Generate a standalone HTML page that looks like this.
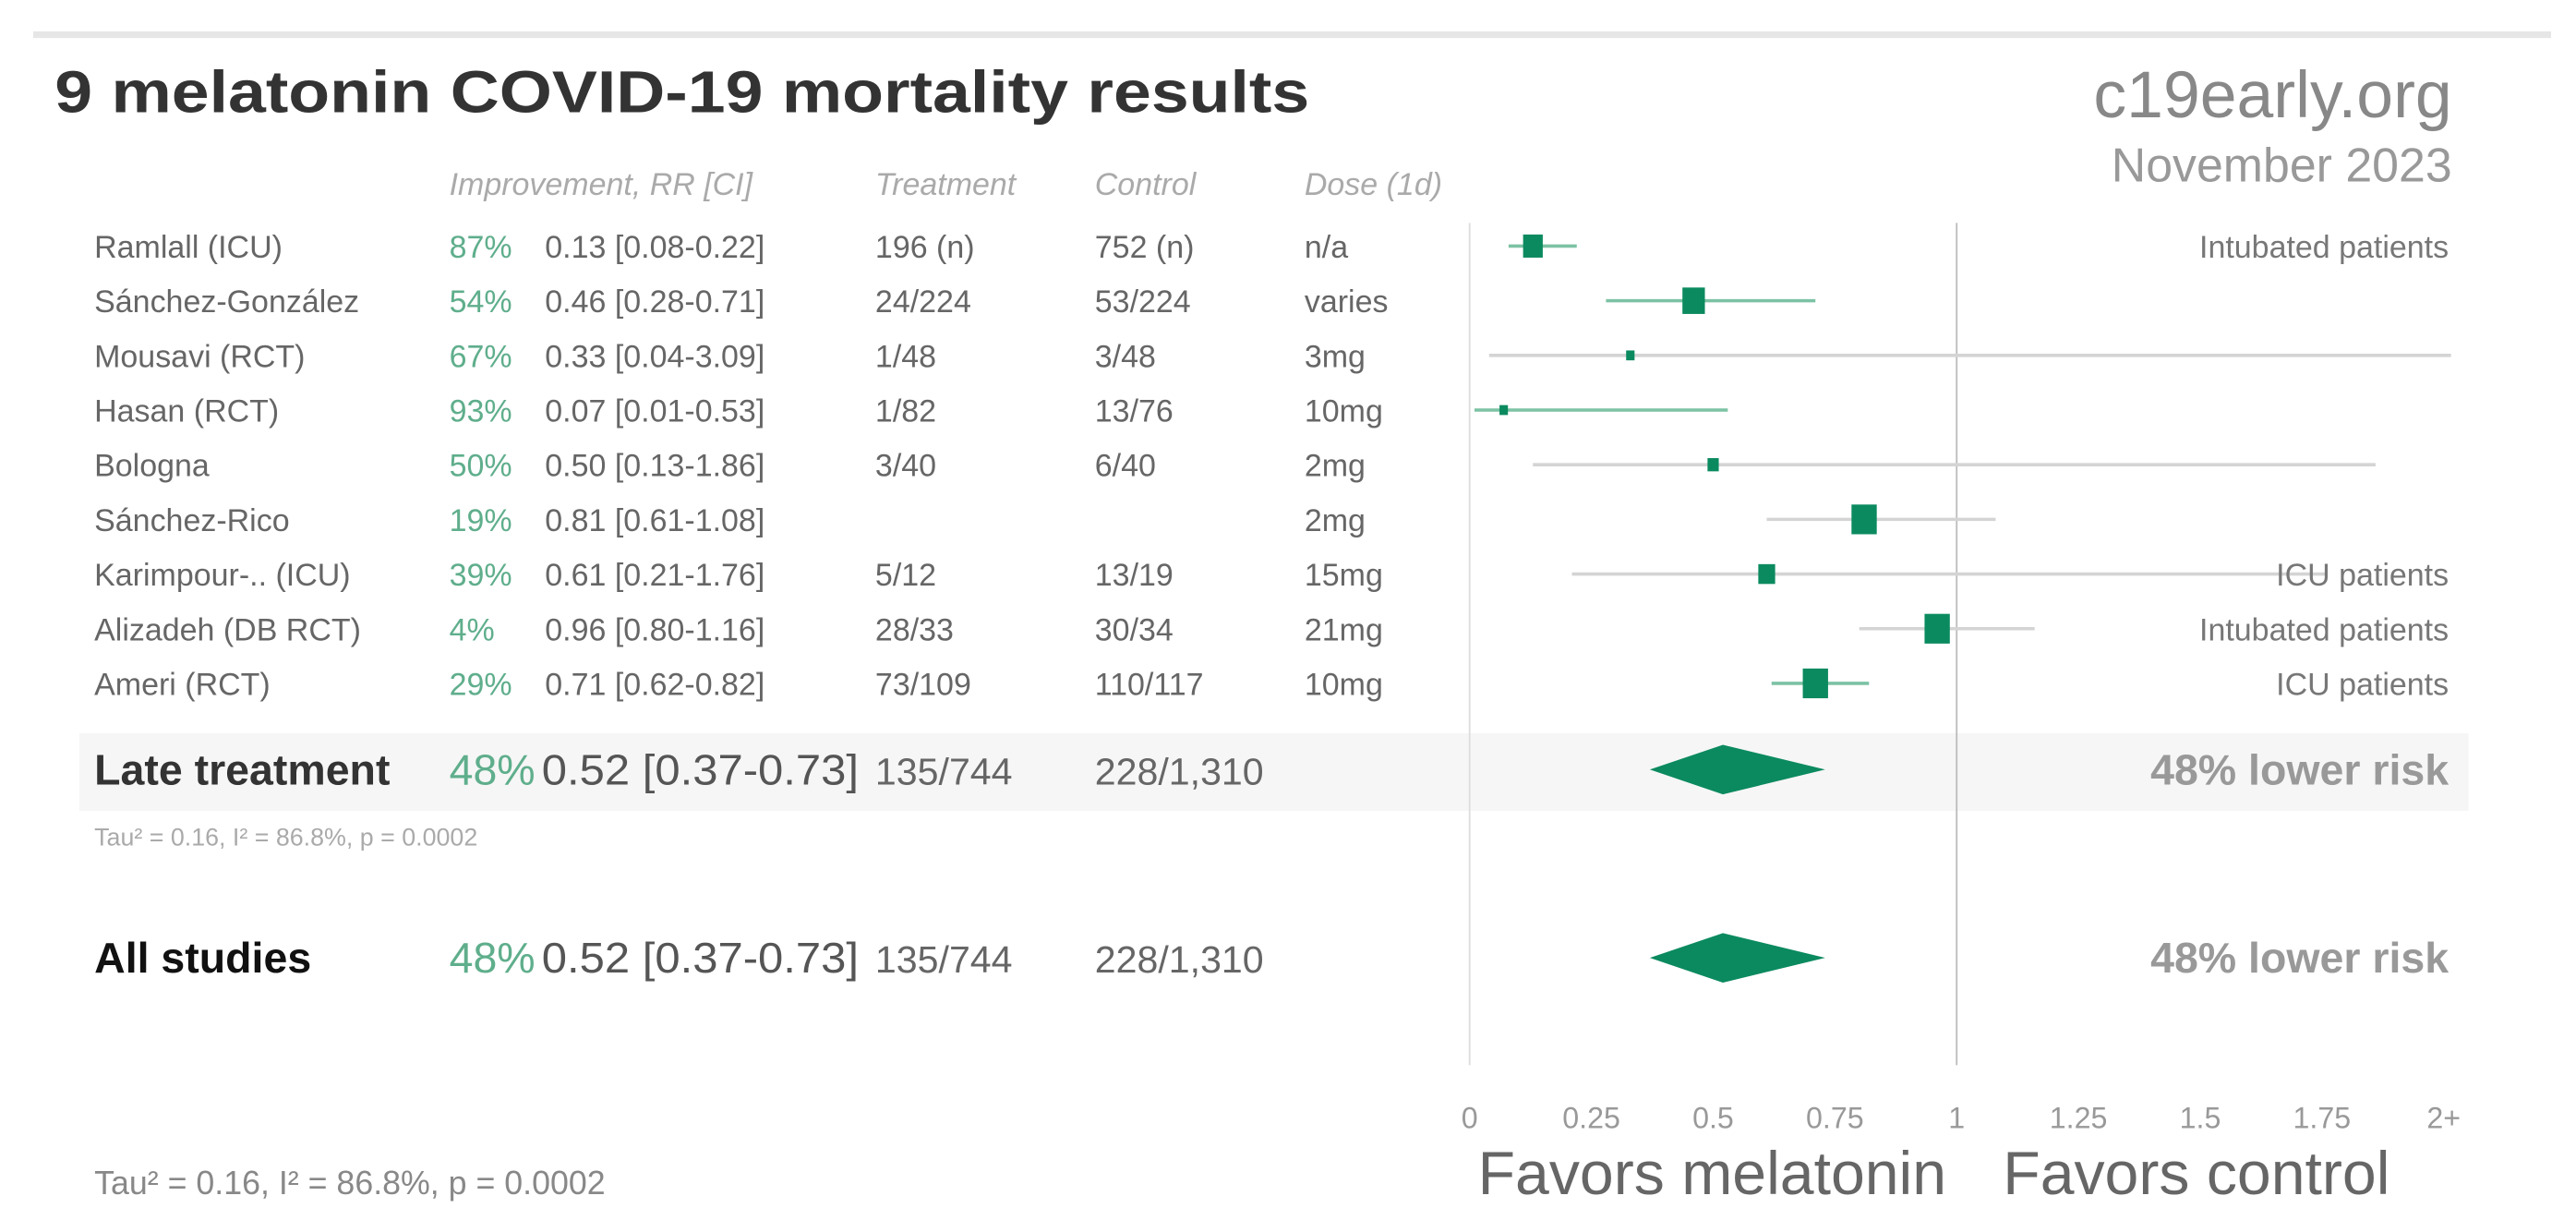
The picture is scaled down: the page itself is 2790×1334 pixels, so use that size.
<!DOCTYPE html>
<html><head><meta charset="utf-8"><style>
html,body{margin:0;padding:0;background:#fff;}
svg{display:block;font-family:"Liberation Sans",sans-serif;}
</style></head><body>
<svg id="chart" width="2790" height="1334" viewBox="0 0 1560 746" xmlns="http://www.w3.org/2000/svg">
<rect x="0" y="0" width="1560" height="746" fill="#fff"/>
<line x1="20" y1="21" x2="1545" y2="21" stroke="#e6e6e6" stroke-width="4"/>
<text x="33" y="68" font-size="36" font-weight="bold" fill="#333" textLength="760" lengthAdjust="spacingAndGlyphs">9 melatonin COVID-19 mortality results</text>
<text x="1485" y="71" font-size="40" fill="#888" text-anchor="end">c19early.org</text>
<text x="1485" y="110" font-size="29" fill="#999" text-anchor="end">November 2023</text>
<g font-size="19" font-style="italic" fill="#aaa">
<text x="272" y="118">Improvement, RR [CI]</text>
<text x="530" y="118">Treatment</text>
<text x="663" y="118">Control</text>
<text x="790" y="118">Dose (1d)</text>
</g>
<rect x="48" y="444" width="1447" height="47" fill="#f6f6f6"/>
<line x1="890" y1="135" x2="890" y2="645" stroke="#ddd" stroke-width="1"/>
<line x1="1185" y1="135" x2="1185" y2="645" stroke="#bbb" stroke-width="1"/>
<g id="rows"></g>
<g id="ticks"></g>
<g id="summary"></g>
<text x="57" y="723" font-size="20" fill="#888">Tau² = 0.16, I² = 86.8%, p = 0.0002</text>
<text x="895" y="723" font-size="37" fill="#666">Favors melatonin</text>
<text x="1213" y="723" font-size="37" fill="#666">Favors control</text>
</svg>
<script>
const names=["Ramlall (ICU)","Sánchez-González","Mousavi (RCT)","Hasan (RCT)","Bologna","Sánchez-Rico","Karimpour-.. (ICU)","Alizadeh (DB RCT)","Ameri (RCT)"];
const improvements=["87%","54%","67%","93%","50%","19%","39%","4%","29%"];
const rr=[0.13,0.46,0.33,0.07,0.50,0.81,0.61,0.96,0.71];
const lower=[0.08,0.28,0.04,0.01,0.13,0.61,0.21,0.80,0.62];
const upper=[0.22,0.71,3.09,0.53,1.86,1.08,1.76,1.16,0.82];
const treatment=["196 (n)","24/224","1/48","1/82","3/40","","5/12","28/33","73/109"];
const control=["752 (n)","53/224","3/48","13/76","6/40","","13/19","30/34","110/117"];
const dose=["n/a","varies","3mg","10mg","2mg","2mg","15mg","21mg","10mg"];
const weights=[7,8,3,3,4,9,6,9,9];
const notes=["Intubated patients","","","","","","ICU patients","Intubated patients","ICU patients"];
const tickValues=[0,0.25,0.5,0.75,1,1.25,1.5,1.75,2];
const tickLabels=["0","0.25","0.5","0.75","1","1.25","1.5","1.75","2+"];
const pooledRR=[0.52,0.52];
const pooledLower=[0.37,0.37];
const pooledUpper=[0.73,0.73];

const NS="http://www.w3.org/2000/svg";
const GREEN="#0b8a5f";
function xs(v){return 890+Math.min(v,2.015)*295;}
function ys(i){return 149+i*33.1;}
function mk(parent,tag,attrs,text){const e=document.createElementNS(NS,tag);for(const k in attrs)e.setAttribute(k,attrs[k]);if(text!==undefined)e.textContent=text;parent.appendChild(e);return e;}
const rows=document.getElementById('rows');
const FS=19;
names.forEach((n,i)=>{
  const y=ys(i),ty=y+7;
  const g=mk(rows,'g',{});
  
  
  let t=mk(g,'text',{x:57,y:ty,'font-size':FS,fill:'#666'},n);
  
  
  t=mk(g,'text',{x:272,y:ty,'font-size':FS,fill:'#5fae8c'},improvements[i]);
  
  
  t=mk(g,'text',{x:330,y:ty,'font-size':FS,fill:'#666'},rr[i].toFixed(2)+' ['+lower[i].toFixed(2)+'-'+upper[i].toFixed(2)+']');
  
  
  t=mk(g,'text',{x:530,y:ty,'font-size':FS,fill:'#666'},treatment[i]);
  
  
  t=mk(g,'text',{x:663,y:ty,'font-size':FS,fill:'#666'},control[i]);
  
  
  t=mk(g,'text',{x:790,y:ty,'font-size':FS,fill:'#666'},dose[i]);
  
  
  const sig=upper[i]<1;
  const l=mk(g,'line',{x1:xs(lower[i]),x2:xs(upper[i]),y1:y,y2:y,stroke:sig?'#7cc2a4':'#d4d4d4','stroke-width':2});
  
  
  const w=weights[i];
  const r=mk(g,'rect',{x:xs(rr[i])-w*0.85,y:y-w,width:w*1.7,height:w*2,fill:GREEN});
  
  
  if(notes[i]){
    t=mk(g,'text',{x:1483,y:ty,'font-size':FS,fill:'#777','text-anchor':'end'},notes[i]);
    
    
  }
});
const ticks=document.getElementById('ticks');
tickValues.forEach((v,i)=>{
  const t=mk(ticks,'text',{x:xs(v),y:683,'font-size':18,fill:'#999','text-anchor':'middle'},tickLabels[i]);
  
  
});
const summ=document.getElementById('summary');
const sLabels=["Late treatment","All studies"];
const sY=[466,580];
const sT=["135/744","135/744"];
const sC=["228/1,310","228/1,310"];
sLabels.forEach((lab,i)=>{
  const y=sY[i],ty=y+9;
  const g=mk(summ,'g',{});
  
  
  let t=mk(g,'text',{x:57,y:ty,'font-size':26,'font-weight':'bold',fill:i?'#111':'#333'},lab);
  
  
  t=mk(g,'text',{x:272,y:ty,'font-size':26,fill:'#5fae8c'},Math.round((1-pooledRR[i])*100)+'%');
  
  
  t=mk(g,'text',{x:328,y:ty,'font-size':26,fill:'#555',textLength:192,lengthAdjust:'spacingAndGlyphs'},pooledRR[i].toFixed(2)+' ['+pooledLower[i].toFixed(2)+'-'+pooledUpper[i].toFixed(2)+']');
  
  
  t=mk(g,'text',{x:530,y:ty,'font-size':23,fill:'#666'},sT[i]);
  
  
  t=mk(g,'text',{x:663,y:ty,'font-size':23,fill:'#666'},sC[i]);
  
  
  const xl=xs(pooledLower[i]),xr=xs(pooledUpper[i]),xm=xs(pooledRR[i]);
  const d=mk(g,'polygon',{points:`${xl},${y} ${xm},${y-15} ${xr},${y} ${xm},${y+15}`,fill:GREEN});
  
  
  t=mk(g,'text',{x:1483,y:ty,'font-size':26,'font-weight':'bold',fill:'#999','text-anchor':'end'},Math.round((1-pooledRR[i])*100)+'% lower risk');
  
  
});
const tau=mk(summ,'text',{x:57,y:512,'font-size':15,fill:'#aaa'},'Tau² = 0.16, I² = 86.8%, p = 0.0002');


</script>
</body></html>
